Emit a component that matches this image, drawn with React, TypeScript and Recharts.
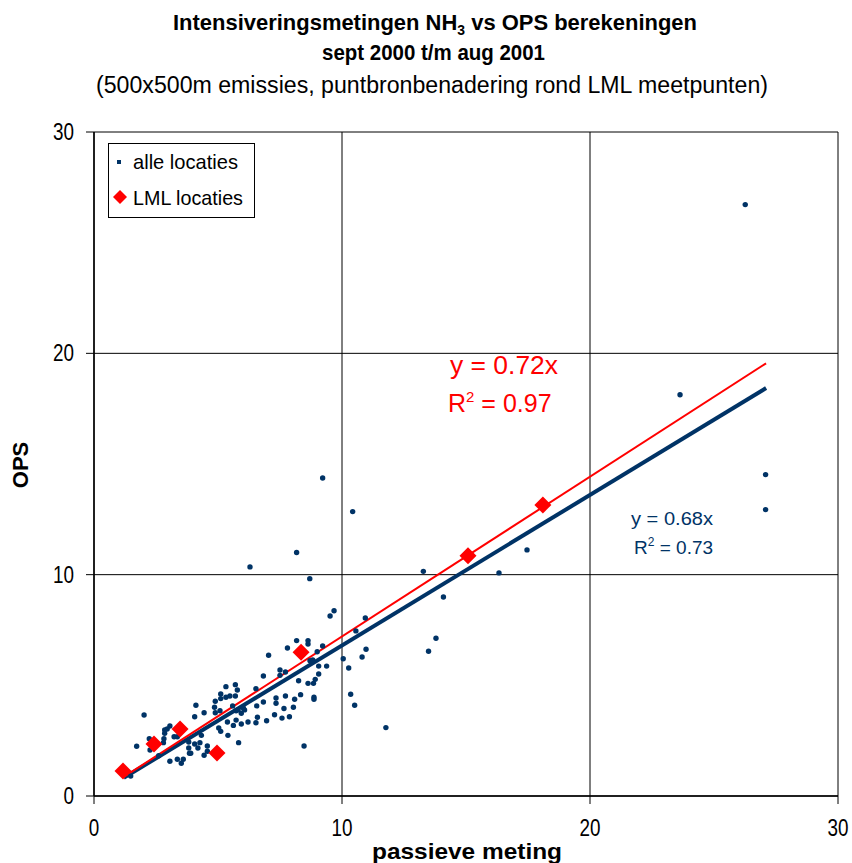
import React from 'react';
import { ScatterChart, Scatter, XAxis, YAxis, CartesianGrid, ReferenceLine } from 'recharts';

const allX = [1.48,1.72,2.02,2.23,2.26,2.61,2.85,2.85,2.95,3.06,2.82,2.80,3.23,3.36,3.06,3.36,3.52,3.60,3.82,3.82,3.85,3.90,4.06,4.11,4.06,4.27,4.19,4.44,4.44,4.57,4.57,4.33,4.89,4.86,4.89,5.08,5.11,5.11,5.03,5.11,5.32,5.32,5.48,5.70,5.70,5.78,5.38,5.40,5.59,5.62,5.73,5.73,5.83,5.81,5.94,6.02,6.07,5.94,6.21,6.53,6.56,6.59,6.53,6.83,6.83,6.96,7.04,7.28,7.34,7.34,7.50,7.50,7.72,7.58,7.66,7.72,7.88,8.04,8.09,8.25,8.33,7.80,8.17,8.47,8.63,8.63,8.71,8.82,8.63,8.87,8.87,8.85,8.92,9.06,9.06,9.00,9.22,9.38,9.52,9.68,10.05,10.27,10.35,10.51,10.94,10.56,10.81,10.97,11.77,13.49,13.79,6.29,9.22,10.43,8.17,8.70,13.28,14.09,16.33,17.46,23.63,26.26,27.08,27.08];
const allY = [0.90,2.25,3.66,2.59,2.08,1.82,2.98,2.83,3.03,3.16,2.59,2.41,2.68,2.68,1.57,1.66,1.48,1.66,2.44,2.17,1.93,1.93,2.35,4.10,3.58,2.41,2.17,3.76,1.84,2.26,2.02,2.74,4.28,4.01,3.76,3.85,4.61,4.40,3.07,2.92,4.94,4.46,4.52,5.03,4.52,4.79,3.34,2.74,4.07,3.19,3.85,3.43,2.41,3.89,3.74,3.98,3.89,3.25,3.34,4.85,4.07,3.56,3.31,5.42,4.25,3.40,6.36,3.67,4.43,4.19,5.69,5.45,5.60,3.52,3.95,4.52,3.58,4.01,4.37,5.21,4.58,6.69,7.02,2.26,7.02,6.87,6.11,6.15,5.09,4.46,4.37,5.09,5.27,5.51,5.87,6.52,6.78,5.87,8.13,8.37,6.20,5.78,4.60,4.10,8.04,7.46,6.28,6.63,3.09,6.54,7.13,10.35,14.37,12.85,11.00,9.82,10.15,8.99,10.08,11.12,18.13,26.72,14.52,12.94];

const lmlX = [1.17, 2.42, 3.47, 4.96, 8.35, 15.08, 18.10];
const lmlY = [1.13, 2.35, 3.03, 1.94, 6.50, 10.85, 13.15];

const blueTrend = [{ x: 1.2, y: 0.82 }, { x: 27.1, y: 18.43 }];
const redTrend = [{ x: 1.2, y: 0.86 }, { x: 27.1, y: 19.55 }];

const ticks = [0, 10, 20, 30];

const allData = allX.map((x, i) => ({ x, y: allY[i] }));
const lmlData = lmlX.map((x, i) => ({ x, y: lmlY[i] }));

const NAVY = '#003366';
const RED = '#ff0000';
const FONT = "'Liberation Sans', Arial, sans-serif";

const Dot = (p: any) => <circle cx={p.cx} cy={p.cy} r={2.7} fill={NAVY} />;
const Diamond = (p: any) => {
  const { cx, cy } = p;
  const h = 8.5;
  return <polygon points={`${cx},${cy - h} ${cx + h},${cy} ${cx},${cy + h} ${cx - h},${cy}`} fill={RED} />;
};

const XTick = (p: any) => {
  const { x, y, payload } = p;
  return (
    <text x={x} y={y} dy={20} textAnchor="middle" fontFamily={FONT} fontSize={23} fill="#000" transform={`translate(${x} 0) scale(0.82 1) translate(${-x} 0)`}>
      {payload.value}
    </text>
  );
};
const YTick = (p: any) => {
  const { x, y, payload } = p;
  return (
    <text x={x} y={y} dy={8} textAnchor="end" fontFamily={FONT} fontSize={23} fill="#000" transform={`translate(${x} 0) scale(0.82 1) translate(${-x} 0)`}>
      {payload.value}
    </text>
  );
};

export default function App() {
  return (
    <div style={{ position: 'absolute', left: 0, top: 0, width: 852, height: 863, background: '#fff', overflow: 'hidden' }}>
      <ScatterChart width={852} height={863} margin={{ top: 132, right: 14, bottom: 27, left: 0 }}>
        <CartesianGrid stroke="#000" strokeWidth={1} horizontalValues={ticks} verticalValues={ticks} />
        <XAxis type="number" dataKey="x" domain={[0, 30]} ticks={ticks} height={40} tickSize={8} tickMargin={12}
          tick={<XTick />} axisLine={{ stroke: '#000', strokeWidth: 1.5 }} tickLine={{ stroke: '#000' }} allowDataOverflow />
        <YAxis type="number" dataKey="y" domain={[0, 30]} ticks={ticks} width={94} tickSize={8} tickMargin={12}
          tick={<YTick />} axisLine={{ stroke: '#000', strokeWidth: 1.5 }} tickLine={{ stroke: '#000' }} allowDataOverflow />
        <Scatter name="alle locaties" data={allData} shape={Dot} isAnimationActive={false} />
        <ReferenceLine segment={blueTrend} stroke={NAVY} strokeWidth={4} ifOverflow="visible" />
        <ReferenceLine segment={redTrend} stroke={RED} strokeWidth={2} ifOverflow="visible" />
        <Scatter name="LML locaties" data={lmlData} shape={Diamond} isAnimationActive={false} />
      </ScatterChart>
      <svg width={852} height={863} style={{ position: 'absolute', left: 0, top: 0, pointerEvents: 'none' }}>
        <rect x={108.5} y={143.5} width={146} height={74} fill="#fff" stroke="#000" strokeWidth={1} />
        <rect x={117} y={160} width={4} height={4} fill={NAVY} />
        <polygon points="120,190 127,197 120,204 113,197" fill={RED} />
        <text x={133} y={169} fontSize={21} fontFamily={FONT} fill="#000" textLength={105} lengthAdjust="spacingAndGlyphs">alle locaties</text>
        <text x={133} y={205} fontSize={21} fontFamily={FONT} fill="#000" textLength={110} lengthAdjust="spacingAndGlyphs">LML locaties</text>

        <text x={173} y={30} fontFamily={FONT} fontWeight="bold" fontSize={22} fill="#000" textLength={524} lengthAdjust="spacingAndGlyphs">
          Intensiveringsmetingen NH<tspan fontSize={14} dy={5}>3</tspan><tspan dy={-5}> vs OPS berekeningen</tspan>
        </text>
        <text x={322} y={60} fontFamily={FONT} fontWeight="bold" fontSize={22} fill="#000" textLength={223} lengthAdjust="spacingAndGlyphs">sept 2000 t/m aug 2001</text>
        <text x={96} y={93} fontFamily={FONT} fontSize={23} fill="#000" textLength={672} lengthAdjust="spacingAndGlyphs">(500x500m emissies, puntbronbenadering rond LML meetpunten)</text>
        <text x={450} y={374} fontFamily={FONT} fontSize={25} fill={RED} textLength={108} lengthAdjust="spacingAndGlyphs">y = 0.72x</text>
        <text x={448} y={412} fontFamily={FONT} fontSize={25} fill={RED}>R<tspan fontSize={15} dy={-10}>2</tspan><tspan dy={10}> = 0.97</tspan></text>
        <text x={631} y={525} fontFamily={FONT} fontSize={19} fill={NAVY} textLength={82} lengthAdjust="spacingAndGlyphs">y = 0.68x</text>
        <text x={634} y={554} fontFamily={FONT} fontSize={19} fill={NAVY}>R<tspan fontSize={12} dy={-8}>2</tspan><tspan dy={8}> = 0.73</tspan></text>
        <text x={28} y={465} textAnchor="middle" fontFamily={FONT} fontWeight="bold" fontSize={22} fill="#000" transform="rotate(-90 28 465)">OPS</text>
        <text x={372} y={859} fontFamily={FONT} fontWeight="bold" fontSize={22} fill="#000" textLength={190} lengthAdjust="spacingAndGlyphs">passieve meting</text>
      </svg>
    </div>
  );
}
